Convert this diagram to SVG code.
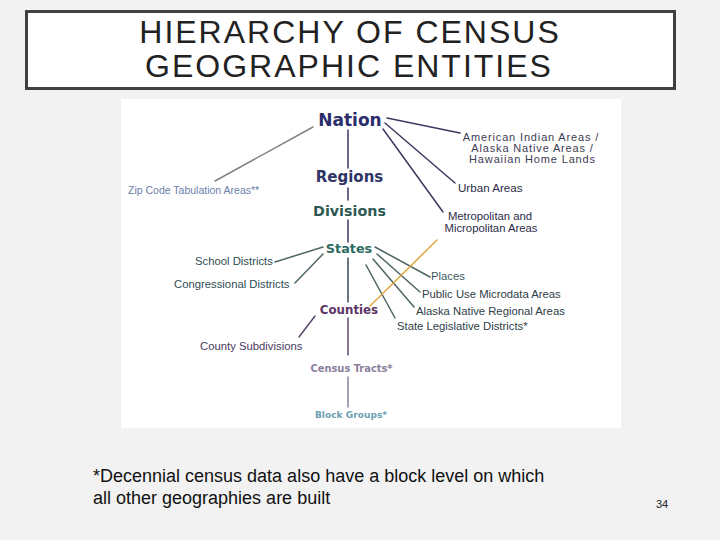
<svg xmlns="http://www.w3.org/2000/svg" width="720" height="540" viewBox="0 0 720 540">
<style>
.t{font-family:"Liberation Sans",Arial,sans-serif}
.b{font-family:"DejaVu Sans",Verdana,sans-serif;font-weight:bold;text-anchor:middle}
.l{font-family:"Liberation Sans",Arial,sans-serif;font-size:11.3px}
.ln{fill:none;stroke-width:1.5;stroke-linecap:round}
</style>
<rect x="0" y="0" width="720" height="540" fill="#f2f2f2"/>
<g id="title">
<rect x="26.5" y="11.5" width="648" height="77" fill="#ffffff" stroke="#404040" stroke-width="3"/>
<text class="t" x="350" y="43" font-size="32" letter-spacing="2" text-anchor="middle" fill="#222222">HIERARCHY OF CENSUS</text>
<text class="t" x="349" y="77" font-size="32" letter-spacing="2" text-anchor="middle" fill="#222222">GEOGRAPHIC ENTITIES</text>
</g>
<rect id="panel" x="121" y="99" width="500" height="329" fill="#ffffff"/>
<g id="connectors">
<path class="ln" stroke="#3a3a6a" d="M348 130V168M348 188V200M348 220V242"/>
<path class="ln" stroke="#3e4a52" d="M348 258V302"/>
<path class="ln" stroke="#5b4a6a" d="M348 318V355"/>
<path class="ln" stroke="#8b7f9e" d="M348 377V407"/>
<path class="ln" stroke="#808080" stroke-width="2" d="M313 127L215 181"/>
<path class="ln" stroke="#3a3a60" d="M387 118L460 133M385 123L455 183M383 129L443 212"/>
<path class="ln" stroke="#4e6868" d="M275 262L323 247M295 283L323 254"/>
<path class="ln" stroke="#4e6464" d="M375 247L430 277M377 254L420 292M373 259L414 307M366 265L395 318"/>
<path class="ln" stroke="#5b4a6a" d="M299 337L315 316"/>
<path class="ln" stroke="#e0a83a" stroke-width="2" d="M370 306L437 240"/>
</g>
<g id="nation"><text class="b" x="350" y="126" font-size="17" fill="#2b2d6b">Nation</text></g>
<g id="regions"><text class="b" x="349.5" y="182" font-size="15" fill="#2e3566">Regions</text></g>
<g id="divisions"><text class="b" x="349.5" y="216" font-size="14.3" fill="#2d5a52">Divisions</text></g>
<g id="states"><text class="b" x="349" y="253" font-size="12.8" fill="#2e6a62">States</text></g>
<g id="counties"><text class="b" x="349" y="314" font-size="11.8" fill="#5b3566">Counties</text></g>
<g id="census-tracts"><text class="b" x="351.5" y="372" font-size="9.9" fill="#8b7f9e">Census Tracts*</text></g>
<g id="block-groups"><text class="b" x="351" y="418" font-size="9.1" fill="#6e9fb0">Block Groups*</text></g>
<g id="zcta"><text class="t" x="128" y="194" font-size="10.5" fill="#6a80a8">Zip Code Tabulation Areas**</text></g>
<g id="aian"><text class="t" font-size="11" letter-spacing="0.85" fill="#3c3c52" text-anchor="middle"><tspan x="531" y="140.5">American Indian Areas /</tspan><tspan x="532.5" y="151.5">Alaska Native Areas /</tspan><tspan x="532.5" y="162.5">Hawaiian Home Lands</tspan></text></g>
<g id="urban"><text class="t" x="458" y="192" font-size="11.6" fill="#2c2c4a">Urban Areas</text></g>
<g id="metro"><text class="l" fill="#2c2c4a" text-anchor="middle"><tspan x="490" y="220">Metropolitan and</tspan><tspan x="491" y="232">Micropolitan Areas</tspan></text></g>
<g id="school"><text class="l" x="195" y="265" fill="#2e4d54">School Districts</text></g>
<g id="congressional"><text class="l" x="174" y="288" fill="#2e4d54">Congressional Districts</text></g>
<g id="places"><text class="l" x="431" y="280" fill="#3e5a60">Places</text></g>
<g id="puma"><text class="l" x="422" y="298" fill="#2e4048">Public Use Microdata Areas</text></g>
<g id="anra"><text class="l" x="416" y="315" fill="#2e4048">Alaska Native Regional Areas</text></g>
<g id="sld"><text class="l" x="397" y="330" fill="#2e4048">State Legislative Districts*</text></g>
<g id="county-sub"><text class="l" x="200" y="350" fill="#4a3a5e">County Subdivisions</text></g>
<g id="footnote"><text class="t" font-size="18" fill="#111111"><tspan x="93" y="482">*Decennial census data also have a block level on which</tspan><tspan x="93" y="504">all other geographies are built</tspan></text></g>
<g id="page"><text class="t" x="656" y="508" font-size="11" fill="#222222">34</text></g>
</svg>
